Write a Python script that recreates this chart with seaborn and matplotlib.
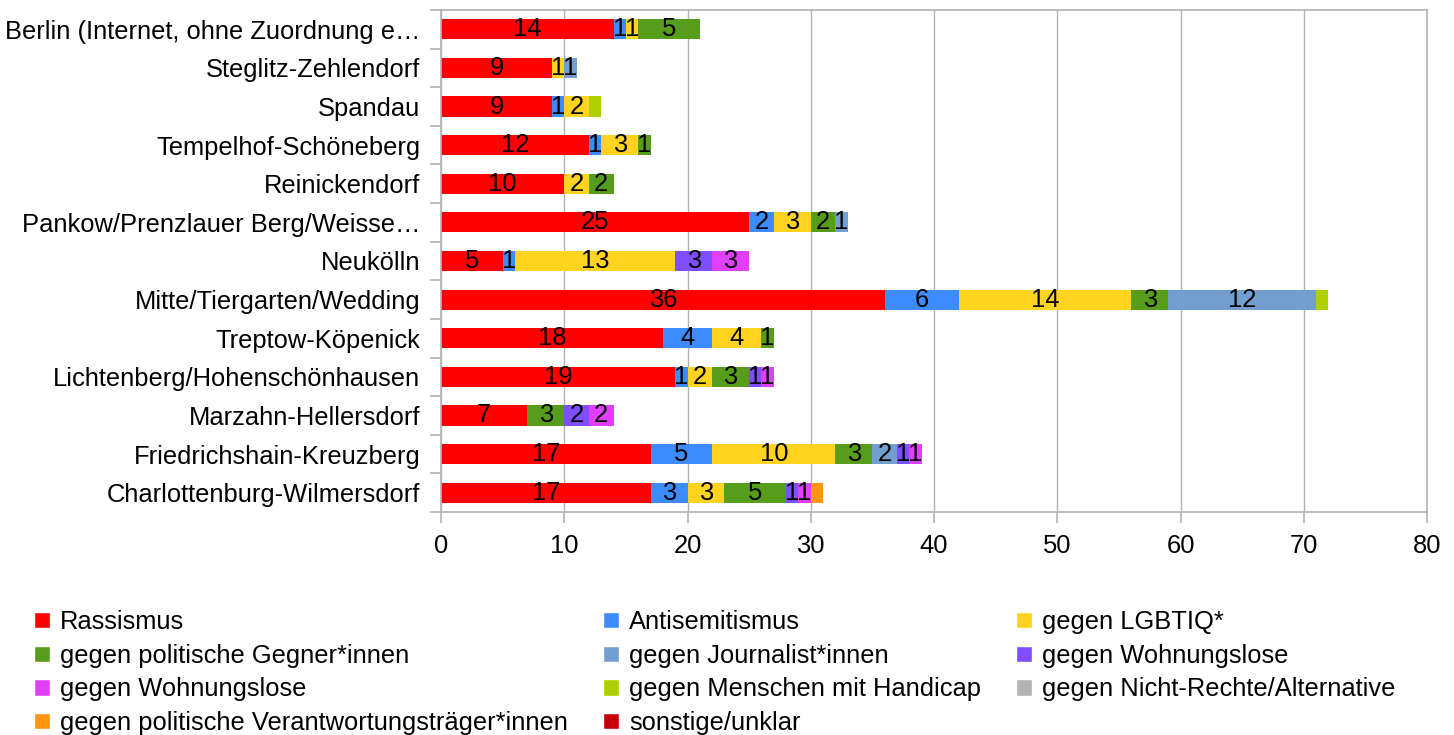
import numpy as np
import pandas as pd
import matplotlib.pyplot as plt
import seaborn as sns
from matplotlib.patches import Patch

# Daten
bezirke = ['Berlin (Internet, ohne Zuordnung e…', 'Steglitz-Zehlendorf', 'Spandau',
           'Tempelhof-Schöneberg', 'Reinickendorf', 'Pankow/Prenzlauer Berg/Weisse…',
           'Neukölln', 'Mitte/Tiergarten/Wedding', 'Treptow-Köpenick',
           'Lichtenberg/Hohenschönhausen', 'Marzahn-Hellersdorf',
           'Friedrichshain-Kreuzberg', 'Charlottenburg-Wilmersdorf']

rassismus        = [14, 9, 9, 12, 10, 25, 5, 36, 18, 19, 7, 17, 17]
antisemitismus   = [1, 0, 1, 1, 0, 2, 1, 6, 4, 1, 0, 5, 3]
lgbtiq           = [1, 1, 2, 3, 2, 3, 13, 14, 4, 2, 0, 10, 3]
pol_gegner       = [5, 0, 0, 1, 2, 2, 0, 3, 1, 3, 3, 3, 5]
journalisten     = [0, 1, 0, 0, 0, 1, 0, 12, 0, 0, 0, 2, 0]
wohnungslose_1   = [0, 0, 0, 0, 0, 0, 3, 0, 0, 1, 2, 1, 1]
wohnungslose_2   = [0, 0, 0, 0, 0, 0, 3, 0, 0, 1, 2, 1, 1]
handicap         = [0, 0, 1, 0, 0, 0, 0, 1, 0, 0, 0, 0, 0]
nicht_rechte     = [0, 0, 0, 0, 0, 0, 0, 0, 0, 0, 0, 0, 0]
verantwortung    = [0, 0, 0, 0, 0, 0, 0, 0, 0, 0, 0, 0, 1]
sonstige         = [0, 0, 0, 0, 0, 0, 0, 0, 0, 0, 0, 0, 0]

serien = ['Rassismus', 'Antisemitismus', 'gegen LGBTIQ*', 'gegen politische Gegner*innen',
          'gegen Journalist*innen', 'gegen Wohnungslose', 'gegen Wohnungslose',
          'gegen Menschen mit Handicap', 'gegen Nicht-Rechte/Alternative',
          'gegen politische Verantwortungsträger*innen', 'sonstige/unklar']
werte = [rassismus, antisemitismus, lgbtiq, pol_gegner, journalisten, wohnungslose_1,
         wohnungslose_2, handicap, nicht_rechte, verantwortung, sonstige]
farben = ['#ff0000', '#3c8cff', '#ffd320', '#579d1c', '#729fcf', '#7f4fff',
          '#e040fb', '#aecf00', '#b3b3b3', '#ff950e', '#c5000b']
# Segmente ohne Beschriftung im Original
ohne_label = {'gegen Menschen mit Handicap', 'gegen politische Verantwortungsträger*innen',
              'sonstige/unklar', 'gegen Nicht-Rechte/Alternative'}

sns.set_theme(style='white')
plt.rcParams['font.family'] = ['Liberation Sans', 'DejaVu Sans']
plt.rcParams['font.size'] = 18.4
plt.rcParams['text.color'] = 'black'
plt.rcParams['xtick.labelcolor'] = 'black'
plt.rcParams['ytick.labelcolor'] = 'black'

fs = 18.4
fig = plt.figure(figsize=(14.54, 7.35), dpi=100)
ax = fig.add_axes([441 / 1454, 1 - 512 / 735, (1427 - 441) / 1454, (512 - 10) / 735])

arr = np.array(werte)
kum = arr.cumsum(axis=0)

# gestapelte Balken: kumulierte Summen von hinten nach vorne überlagern
for i in range(len(serien) - 1, -1, -1):
    df = pd.DataFrame({'bezirk': bezirke, 'wert': kum[i]})
    sns.barplot(data=df, x='wert', y='bezirk', color=farben[i], width=0.52,
                saturation=1, linewidth=0, orient='h', ax=ax)

# Beschriftung der Segmente
for i, name in enumerate(serien):
    if name in ohne_label:
        continue
    for j in range(len(bezirke)):
        v = arr[i, j]
        if v > 0:
            ax.text(kum[i, j] - v / 2, j, str(v), ha='center', va='center',
                    fontsize=fs, color='black')

ax.set_xlim(0, 80)
ax.set_ylim(12.5, -0.5)
ax.set_xticks(range(0, 81, 10))
ax.set_xlabel('')
ax.set_ylabel('')
ax.set_axisbelow(True)
ax.grid(axis='x', color='#b3b3b3', linewidth=1)
for s in ax.spines.values():
    s.set_color('#b3b3b3')
    s.set_linewidth(1.2)
ax.set_yticks(np.arange(-0.5, 13, 1), minor=True)
ax.tick_params(axis='y', which='major', length=0, pad=15, labelsize=fs)
ax.tick_params(axis='y', which='minor', length=8, color='#b3b3b3', width=1.2, left=True)
ax.tick_params(axis='x', length=8, color='#b3b3b3', width=1.2, pad=8, labelsize=fs, bottom=True)

# Legende zeilenweise (3 Spalten)
handles = [Patch(facecolor=c, label=s) for c, s in zip(farben, serien)]
order = [0, 3, 6, 9, 1, 4, 7, 10, 2, 5, 8]
fig.legend([handles[k] for k in order], [serien[k] for k in order],
           ncol=3, loc='upper left', bbox_to_anchor=(34 / 1454, 1 - 610 / 735),
           frameon=False, fontsize=fs, handlelength=0.63, handleheight=0.6,
           handletextpad=0.4, columnspacing=1.35, labelspacing=0.38, borderpad=0,
           borderaxespad=0)

fig.savefig('out.png', dpi=100)
